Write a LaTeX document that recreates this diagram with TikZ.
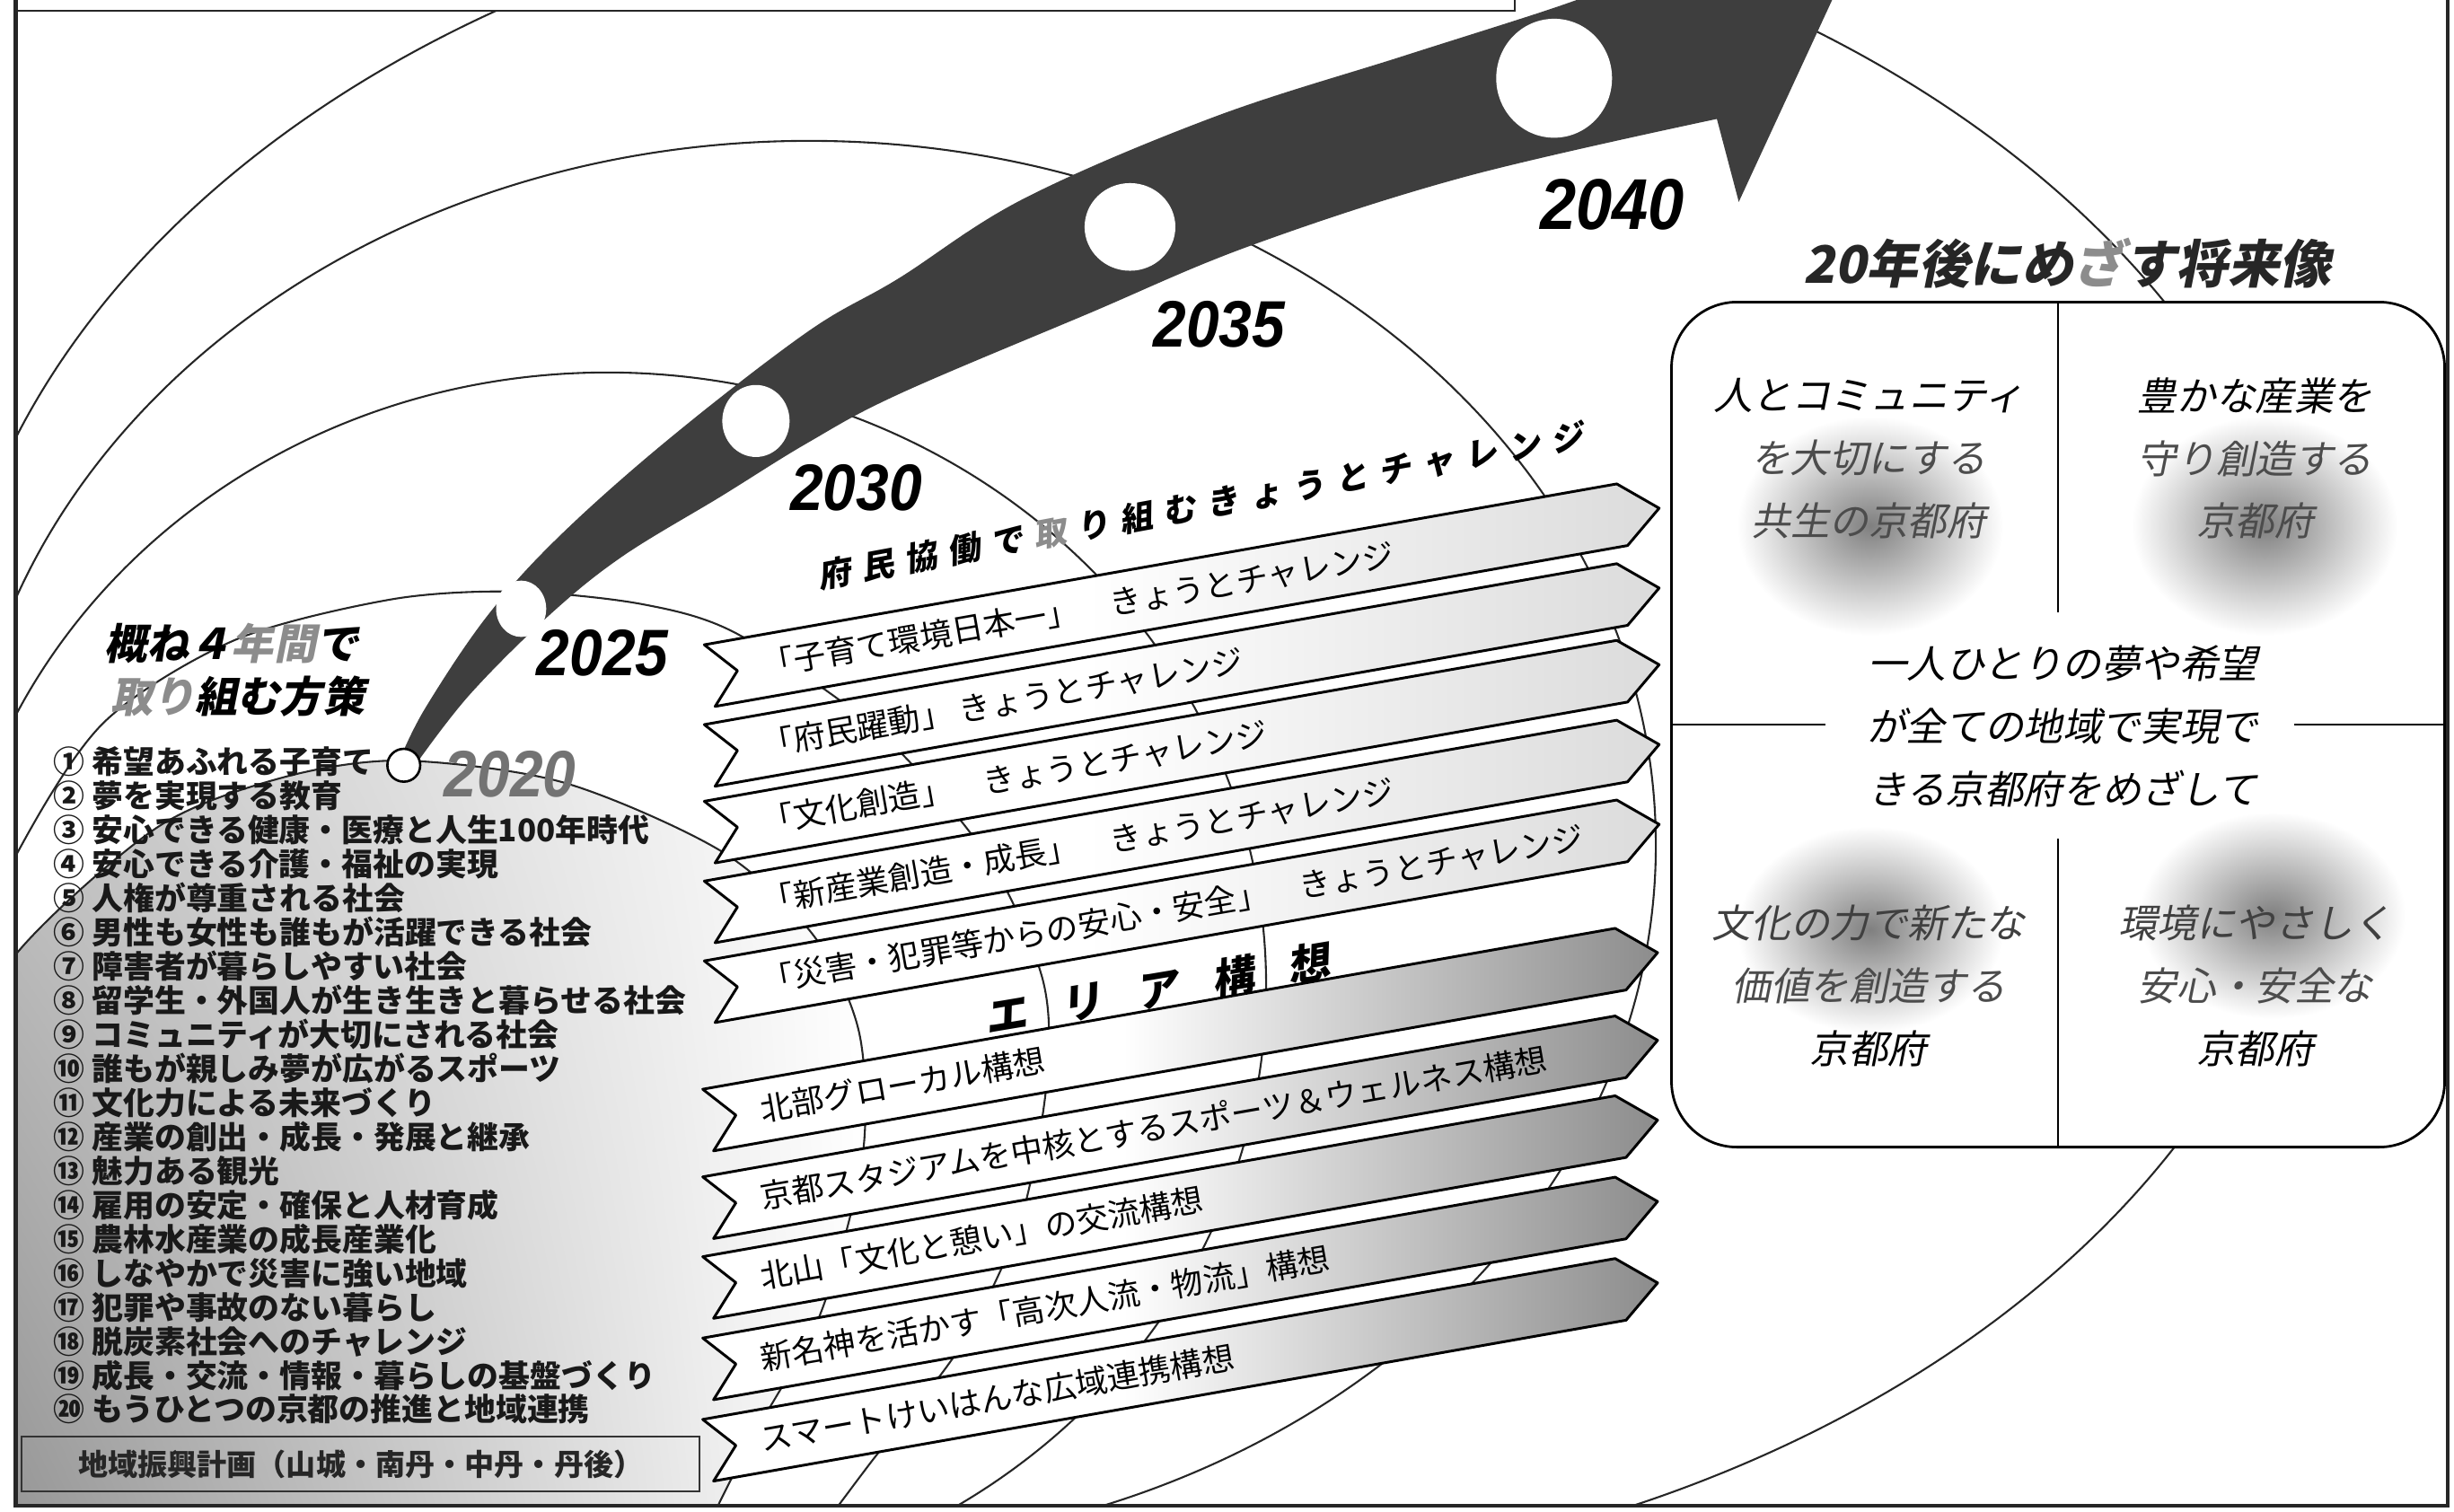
\documentclass[tikz,border=0pt]{standalone}
\usepackage{fontspec}
\newfontfamily\jp{Noto Sans CJK JP}
\newfontfamily\jpit[FakeSlant=0.2]{Noto Sans CJK JP}
\newfontfamily\numfont[FakeStretch=0.9]{Liberation Sans}
\usetikzlibrary{positioning, shapes.geometric, shadings}
\definecolor{arrowgray}{RGB}{62,62,62}
\newcommand{\gp}[1][7pt]{\hspace{#1}}
\pgfdeclarehorizontalshading{chalshade}{100bp}{color(0bp)=(white); color(45bp)=(white); color(75bp)=(black!14); color(100bp)=(black!14)}
\pgfdeclarehorizontalshading{areashade}{100bp}{color(0bp)=(white); color(47bp)=(white); color(75bp)=(black!45); color(100bp)=(black!45)}

\tikzset{
  pics/challenge/.style={code={
    \path[chalbox] (0,0) -- (592,0) -- (616,20) -- (592,40) -- (0,40) -- (18,20) -- cycle;
    \node[bantext] (-t) at (34,20) {#1};
  }},
  pics/area/.style={code={
    \path[areabox] (0,0) -- (592,0) -- (616,20) -- (592,40) -- (0,40) -- (18,20) -- cycle;
    \node[bantext] (-t) at (34,20) {#1};
  }},
}

\begin{document}
\begin{tikzpicture}[x=1pt, y=-1pt,
  ring/.style={draw=black!85, line width=1.2pt},
  chalbox/.style={draw=black, line width=1.7pt, line join=round, shade, shading=chalshade},
  areabox/.style={draw=black, line width=1.7pt, line join=round, shade, shading=areashade},
  bantext/.style={anchor=west, inner sep=0pt, text height=16pt, text depth=2pt, transform shape, font=\jp\fontsize{20.5}{20.5}\selectfont},
  hole/.style={ellipse, fill=white, inner sep=0pt},
  year/.style={inner sep=0pt, text height=30pt, text depth=0pt, font=\numfont\bfseries\itshape\fontsize{42}{42}\selectfont},
  head/.style={inner sep=0pt, text height=22pt, text depth=3pt, font=\jpit\bfseries\fontsize{27}{27}\selectfont},
  item/.style={anchor=west, inner sep=0pt, text height=16pt, text depth=2pt, text=black!90, font=\jp\bfseries\fontsize{20}{20}\selectfont},
  nextitem/.style={below=21.8pt of #1.west, anchor=west},
  vision/.style={inner sep=0pt, align=center, font=\jpit\fontsize{25}{40}\selectfont},
  glow/.style={inner color=black!50, outer color=white},
]
\useasboundingbox (0,0) rectangle (1568,966);

\begin{scope}
  \clip (10,7) -- (968,7) -- (968,0) -- (1564,0) -- (1564,962) -- (10,962) -- cycle;
  % rings
  \draw[ring] (725,467) ellipse [x radius=761, y radius=545];
  \draw[ring] (517,540) ellipse [x radius=541, y radius=450];
  \draw[ring] (388,630) ellipse [x radius=421, y radius=392];
  \draw[ring] plot[smooth] coordinates {(-30,640) (10,547) (66,462) (150,409) (250,383) (329,378) (410,386) (471,405) (560,466) (630,546) (666,625) (669,690) (652,780) (614,860) (556,935) (515,990)};
  \shade[upper left=black!25, lower left=black!45, upper right=white, lower right=white]
    plot[smooth] coordinates {(-30,690) (10,610) (100,529) (180,497) (257,486) (360,500) (461,544) (520,598) (549,660) (551,740) (524,840) (480,920) (445,990)} -- (-30,1000) -- cycle;
  \draw[ring] plot[smooth] coordinates {(-30,690) (10,610) (100,529) (180,497) (257,486) (360,500) (461,544) (520,598) (549,660) (551,740) (524,840) (480,920) (445,990)};

  % challenge banners
  \pic[rotate=10] (c1) at (450,412) {challenge={「子育て環境日本一」　きょうとチャレンジ}};
  \pic[rotate=10] (c2) at (450,463) {challenge={「府民躍動」 きょうとチャレンジ}};
  \pic[rotate=10] (c3) at (450,512) {challenge={「文化創造」　きょうとチャレンジ}};
  \pic[rotate=10] (c4) at (450,563) {challenge={「新産業創造・成長」　きょうとチャレンジ}};
  \pic[rotate=10] (c5) at (450,614) {challenge={「災害・犯罪等からの安心・安全」　きょうとチャレンジ}};
  % area banners
  \pic[rotate=10] (a1) at (449,696) {area={北部グローカル構想}};
  \pic[rotate=10] (a2) at (449,752) {area={京都スタジアムを中核とするスポーツ＆ウェルネス構想}};
  \pic[rotate=10] (a3) at (449,803) {area={北山「文化と憩い」の交流構想}};
  \pic[rotate=10] (a4) at (449,855) {area={新名神を活かす「高次人流・物流」構想}};
  \pic[rotate=10] (a5) at (449,907) {area={スマートけいはんな広域連携構想}};

  % time arrow
  \fill[arrowgray] (257,489)
    -- plot[smooth, tension=0.6] coordinates {(266,488) (300,444) (350,394) (397,356) (461,317) (516,283) (574,252) (694,201) (799,157) (936,113) (1097,76)}
    -- (1111,129) -- (1203,-70) -- (1060,-60)
    -- plot[smooth, tension=0.6] coordinates {(1040,-12) (990,6) (896,36) (775,75) (654,127) (574,178) (516,212) (428,280) (357,343) (311,394) (272,452) (256,484)}
    -- cycle;
\end{scope}

\node[hole, minimum width=32pt, minimum height=36pt] (p2025) at (333,389) {};
\node[hole, minimum width=43pt, minimum height=46pt] (p2030) at (483,269) {};
\node[hole, minimum width=58pt, minimum height=56pt] (p2035) at (722,145) {};
\node[hole, minimum width=74pt, minimum height=76pt] (p2040) at (993,50) {};
\node[draw, circle, fill=white, line width=1.5pt, minimum size=21pt, inner sep=0pt] (p2020) at (258,489) {};

\node[year, text=black!55] (y2020) at (326,494) {2020};
\node[year] (y2025) at (385,417) {2025};
\node[year] (y2030) at (547,311) {2030};
\node[year] (y2035) at (779,207) {2035};
\node[year, text height=33pt, font=\numfont\bfseries\itshape\fontsize{46}{46}\selectfont] (y2040) at (1030,130) {2040};

\node[inner sep=0pt, rotate=10.5, font=\jpit\bfseries\fontsize{21}{21}\selectfont] (kyoto) at (767,323)
  {府\gp 民\gp 協\gp 働\gp で\gp {\color{black!45}取}\gp り\gp 組\gp む\gp き\gp ょ\gp う\gp と\gp チ\gp ャ\gp レ\gp ン\gp ジ};
\node[inner sep=0pt, rotate=9.5, font=\jpit\bfseries\fontsize{27}{27}\selectfont] (areas) at (739,632)
  {エ\gp[22pt]リ\gp[22pt]ア\gp[22pt]構\gp[22pt]想};

% measures for the four years
\node[head] (plan1) at (148,412) {概ね４{\color{black!45}年間}で};
\node[head] (plan2) at (152,446) {{\color{black!45}取り}組む方策};
\node[item] (i1) at (34,487) {① 希望あふれる子育て};
\node[item, nextitem=i1] (i2) {② 夢を実現する教育};
\node[item, nextitem=i2] (i3) {③ 安心できる健康・医療と人生100年時代};
\node[item, nextitem=i3] (i4) {④ 安心できる介護・福祉の実現};
\node[item, nextitem=i4] (i5) {⑤ 人権が尊重される社会};
\node[item, nextitem=i5] (i6) {⑥ 男性も女性も誰もが活躍できる社会};
\node[item, nextitem=i6] (i7) {⑦ 障害者が暮らしやすい社会};
\node[item, nextitem=i7] (i8) {⑧ 留学生・外国人が生き生きと暮らせる社会};
\node[item, nextitem=i8] (i9) {⑨ コミュニティが大切にされる社会};
\node[item, nextitem=i9] (i10) {⑩ 誰もが親しみ夢が広がるスポーツ};
\node[item, nextitem=i10] (i11) {⑪ 文化力による未来づくり};
\node[item, nextitem=i11] (i12) {⑫ 産業の創出・成長・発展と継承};
\node[item, nextitem=i12] (i13) {⑬ 魅力ある観光};
\node[item, nextitem=i13] (i14) {⑭ 雇用の安定・確保と人材育成};
\node[item, nextitem=i14] (i15) {⑮ 農林水産業の成長産業化};
\node[item, nextitem=i15] (i16) {⑯ しなやかで災害に強い地域};
\node[item, nextitem=i16] (i17) {⑰ 犯罪や事故のない暮らし};
\node[item, nextitem=i17] (i18) {⑱ 脱炭素社会へのチャレンジ};
\node[item, nextitem=i18] (i19) {⑲ 成長・交流・情報・暮らしの基盤づくり};
\node[item, nextitem=i19] (i20) {⑳ もうひとつの京都の推進と地域連携};
\node[draw=black!80, line width=1.2pt, minimum width=433pt, minimum height=35pt, inner sep=0pt,
      font=\jp\bfseries\fontsize{19}{19}\selectfont, text=black!85] (region) at (230.5,935.5)
  {地域振興計画（山城・南丹・中丹・丹後）};

% future vision
\node[inner sep=0pt, font=\jpit\bfseries\fontsize{33}{33}\selectfont, text=black!85] (goal) at (1321,168)
  {20年後にめ{\color{black!45}ざ}す将来像};
\node[draw, line width=1.6pt, fill=white, rounded corners=42pt, minimum width=494pt, minimum height=540pt, inner sep=0pt] (future) at (1315,463) {};
\shade[glow] (1195,336) ellipse [x radius=85, y radius=70];
\shade[glow] (1447,336) ellipse [x radius=85, y radius=70];
\shade[glow] (1195,594) ellipse [x radius=85, y radius=66];
\shade[glow] (1452,585) ellipse [x radius=85, y radius=66];
\draw[line width=1.4pt] (future.north) -- ++(0,199);
\draw[line width=1.4pt] (future.south) -- ++(0,-198);
\draw[line width=1.4pt] (future.west) -- ++(99,0);
\draw[line width=1.4pt] (future.east) -- ++(-97,0);
\node[vision] (tl) at (1194,293) {人とコミュニティ\\{\color{black!70}を大切にする}\\{\color{black!70}共生の京都府}};
\node[vision] (tr) at (1441,293) {豊かな産業を\\{\color{black!70}守り創造する}\\{\color{black!70}京都府}};
\node[vision] (bl) at (1194,630) {{\color{black!75}文化の力で新たな}\\{\color{black!70}価値を創造する}\\京都府};
\node[vision] (br) at (1441,630) {{\color{black!75}環境にやさしく}\\{\color{black!70}安心・安全な}\\京都府};
\node[vision] (aim) at (1318,464) {一人ひとりの夢や希望\\が全ての地域で実現で\\きる京都府をめざして};

% frame
\draw[line width=2.4pt, draw=black!85] (10,0) -- (10,962) -- (1564,962) -- (1564,0);
\draw[line width=1.2pt, draw=black!85] (10,7) -- (968,7) -- (968,0);
\end{tikzpicture}
\end{document}
